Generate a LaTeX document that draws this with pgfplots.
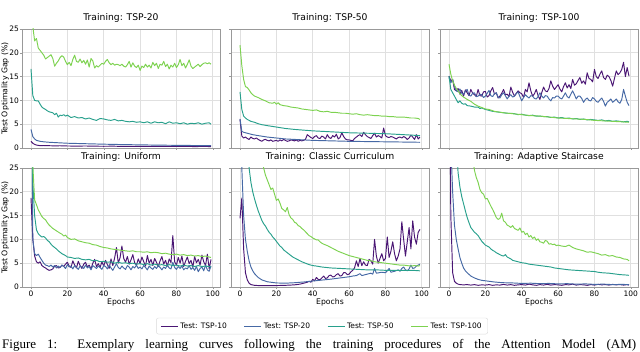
\documentclass[border=0pt]{standalone}
\usepackage{pgfplots}
\pgfplotsset{compat=1.18}
\usepackage{fontspec}
\setmainfont{DejaVu Sans}
\newfontfamily\capfont{Liberation Serif}
\definecolor{c10}{RGB}{74,22,116}
\definecolor{c20}{RGB}{70,105,165}
\definecolor{c50}{RGB}{40,160,140}
\definecolor{c100}{RGB}{125,210,80}
\pgfplotsset{
  panel/.style={
    scale only axis, width=198pt, height=119pt,
    xmin=-4.95, xmax=103.95, ymin=0, ymax=25,
    xtick={0,20,...,100}, ytick={0,5,...,25},
    axis line style={draw=black!40},
    grid=major, grid style={draw=black!12, line width=0.7pt},
    tick pos=left, tick align=outside, major tick length=2pt,
    tick style={draw=black!40},
    tick label style={font=\fontsize{7.5}{9}\selectfont},
    yticklabel style={inner xsep=0.8pt},
    xticklabel style={inner ysep=1.5pt},
    /pgf/number format/assume math mode=true,
    title style={at={(0.5,1)}, anchor=base, yshift=2.6pt, font=\fontsize{9.2}{11}\selectfont, inner sep=0pt},
    ylabel style={at={(axis description cs:-0.085,0.5)}, anchor=center, font=\fontsize{7.8}{9}\selectfont},
    xlabel style={at={(axis description cs:0.5,-0.126)}, anchor=center, font=\fontsize{7.7}{9}\selectfont},
    every axis plot/.append style={line width=0.95pt, line join=round},
  },
}
\begin{document}
\begin{tikzpicture}
\useasboundingbox (0pt,0pt) rectangle (640pt,352pt);
% ---------------- Panel 1
\begin{axis}[panel, at={(22pt,204pt)}, anchor=south west, title={Training: TSP-20}, ylabel={Test Optimality Gap (\%)}, xticklabels={}]
\addplot[c10] coordinates {(0,1.4)(1,1.0)(2,0.75)(3,0.62)(4,0.55)(5,0.5)(7,0.52)(10,0.48)(13,0.45)(16,0.47)(20,0.42)(25,0.4)(30,0.42)(35,0.38)(40,0.36)(45,0.38)(50,0.34)(55,0.36)(60,0.33)(65,0.35)(70,0.32)(75,0.34)(80,0.31)(85,0.33)(90,0.3)(95,0.32)(99,0.3)};
\addplot[c20] coordinates {(0,3.9)(1,2.4)(2,1.9)(3,1.6)(4,1.5)(5,1.4)(7,1.3)(10,1.2)(15,1.1)(20,1.0)(30,0.9)(40,0.8)(50,0.72)(60,0.66)(70,0.6)(80,0.56)(90,0.52)(99,0.5)};
\addplot[c50] coordinates {(0,16.6)(1,11.0)(2,10.0)(3,9.9)(4,9.9)(5,9.2)(6,8.6)(7,8.3)(8,8.1)(9,7.8)(10,7.6)(11,7.5)(12,7.4)(13,7.0)(14,7.3)(15,6.5)(16,6.9)(17,6.8)(18,7.0)(19,6.7)(20,6.9)(22,6.4)(24,6.6)(26,6.3)(28,6.4)(30,6.1)(32,6.3)(34,6.0)(36,5.8)(38,6.2)(40,6.1)(42,5.9)(44,5.8)(46,6.0)(48,5.7)(50,5.8)(52,5.6)(54,5.5)(56,5.6)(58,5.4)(60,5.5)(62,5.3)(64,5.5)(66,5.2)(68,5.5)(70,5.3)(72,5.4)(74,5.1)(76,5.5)(78,5.2)(80,5.3)(82,5.1)(84,5.3)(86,5.0)(88,5.2)(90,5.1)(92,5.3)(94,5.0)(96,5.2)(98,5.3)(99,5.0)};
\addplot[c100] coordinates {(0,27.5)(1,25.5)(2,22.5)(3,23.0)(4,21.0)(5,20.5)(6,20.0)(7,19.5)(8,18.7)(9,19.0)(10,19.3)(11,19.6)(12,18.8)(13,17.2)(14,17.8)(15,18.3)(16,19.0)(17,19.4)(18,19.1)(19,18.2)(20,17.5)(21,18.0)(22,17.3)(23,18.6)(24,19.5)(25,18.2)(26,18.0)(27,18.7)(28,17.9)(29,18.4)(30,17.6)(31,18.5)(32,17.0)(33,18.8)(34,18.3)(35,16.8)(36,17.3)(37,17.0)(38,17.4)(39,17.8)(40,17.6)(41,18.2)(42,18.6)(43,17.9)(44,17.5)(45,17.8)(46,17.4)(47,17.6)(48,17.5)(49,17.3)(50,17.6)(51,17.2)(52,17.0)(53,17.5)(54,18.2)(55,17.0)(56,17.9)(57,17.2)(58,16.9)(59,17.4)(60,16.3)(61,17.2)(62,16.9)(63,17.6)(64,17.0)(65,17.4)(66,16.8)(67,18.0)(68,17.3)(69,17.8)(70,16.7)(71,17.6)(72,17.4)(73,18.2)(74,17.1)(75,17.6)(76,16.6)(77,17.4)(78,17.0)(79,17.8)(80,16.9)(81,17.5)(82,18.6)(83,17.3)(84,17.8)(85,16.8)(86,17.6)(87,18.5)(88,17.2)(89,16.7)(90,17.0)(91,17.3)(92,17.6)(93,17.1)(94,17.5)(95,17.8)(96,17.9)(97,17.7)(98,17.9)(99,17.6)};
\end{axis}
% ---------------- Panel 2
\begin{axis}[panel, at={(231pt,204pt)}, anchor=south west, title={Training: TSP-50}, xticklabels={}, yticklabels={}]
\addplot[c10] coordinates {(0,6.0)(1,2.5)(2,2.1)(3,2.3)(4,2.0)(5,1.8)(6,2.3)(7,2.0)(8,1.9)(9,2.1)(10,1.8)(11,1.6)(12,1.4)(13,1.7)(14,1.8)(15,1.6)(16,1.5)(17,1.7)(18,1.4)(19,1.5)(20,1.6)(21,1.4)(22,1.7)(23,1.5)(24,1.8)(25,1.6)(26,1.4)(27,1.5)(28,1.7)(29,1.6)(30,1.5)(31,1.7)(32,1.4)(33,1.6)(34,1.5)(35,1.6)(36,1.8)(37,2.8)(38,2.5)(39,2.2)(40,2.0)(41,2.4)(42,2.6)(43,2.1)(44,2.0)(45,2.5)(46,2.3)(47,1.9)(48,2.8)(49,2.2)(50,2.0)(51,2.6)(52,2.3)(53,2.9)(54,1.9)(55,2.2)(56,3.2)(57,2.4)(58,1.9)(59,1.7)(60,1.7)(61,1.6)(62,1.5)(63,2.0)(64,2.3)(65,2.6)(66,2.8)(67,2.4)(68,3.3)(69,2.8)(70,2.4)(71,2.2)(72,2.0)(73,2.6)(74,3.1)(75,2.3)(76,2.6)(77,2.4)(78,2.1)(79,4.2)(80,2.6)(81,2.3)(82,2.2)(83,2.4)(84,2.3)(85,2.1)(86,1.9)(87,2.2)(88,2.3)(89,2.1)(90,2.4)(91,2.2)(92,1.8)(93,2.1)(94,2.7)(95,2.3)(96,1.8)(97,2.8)(98,1.9)(99,2.3)};
\addplot[c20] coordinates {(0,6.1)(1,3.5)(2,3.3)(3,3.2)(5,3.0)(7,2.8)(10,2.6)(15,2.3)(20,2.1)(25,1.9)(30,1.8)(40,1.6)(50,1.5)(60,1.4)(70,1.35)(80,1.3)(90,1.25)(99,1.2)};
\addplot[c50] coordinates {(0,11.8)(1,8.1)(2,6.7)(3,6.3)(4,6.0)(5,5.8)(6,5.6)(8,5.4)(10,5.1)(12,4.9)(15,4.7)(20,4.4)(25,4.1)(30,3.9)(35,3.75)(40,3.6)(50,3.4)(60,3.2)(70,3.1)(80,3.0)(90,2.8)(99,2.6)};
\addplot[c100] coordinates {(0,21.6)(1,17.3)(2,14.4)(3,12.9)(4,12.7)(5,12.2)(6,11.6)(7,11.2)(8,10.9)(10,10.6)(12,10.2)(14,9.9)(16,9.5)(18,9.4)(19,9.6)(20,9.2)(21,9.5)(22,9.1)(24,8.9)(26,8.8)(28,8.6)(30,8.5)(32,8.4)(34,8.2)(36,8.1)(38,8.0)(40,7.9)(42,8.0)(44,7.7)(46,7.6)(48,7.7)(50,7.5)(52,7.5)(54,7.4)(56,7.3)(58,7.3)(60,7.2)(62,7.1)(64,7.2)(66,7.0)(68,6.9)(70,7.0)(72,6.9)(74,6.8)(76,6.8)(78,6.7)(80,6.7)(82,6.6)(84,6.6)(86,6.5)(88,6.5)(90,6.5)(92,6.4)(94,6.3)(96,6.3)(98,6.2)(99,6.0)};
\end{axis}
% ---------------- Panel 3
\begin{axis}[panel, at={(440pt,204pt)}, anchor=south west, title={Training: TSP-100}, xticklabels={}, yticklabels={}]
\addplot[c10] coordinates {(0,15.1)(1,14.1)(2,14.4)(3,12.3)(4,12.0)(5,12.5)(6,11.3)(7,12.1)(8,10.9)(9,12.2)(10,11.6)(11,11.0)(12,12.3)(13,11.5)(14,11.2)(15,10.8)(16,12.3)(17,11.0)(18,10.9)(19,11.8)(20,11.9)(21,10.7)(22,11.0)(23,12.0)(24,12.7)(25,11.3)(26,11.6)(27,10.5)(28,10.9)(29,11.5)(30,12.3)(31,11.2)(32,11.3)(33,10.8)(34,12.8)(35,11.7)(36,10.9)(37,11.5)(38,12.0)(39,11.6)(40,11.4)(41,10.6)(42,12.3)(43,11.8)(44,13.7)(45,12.0)(46,10.9)(47,11.4)(48,12.3)(49,11.0)(50,10.2)(51,11.6)(52,12.8)(53,12.0)(54,11.8)(55,12.5)(56,14.1)(57,13.0)(58,12.3)(59,12.8)(60,13.3)(61,12.4)(62,11.8)(63,12.9)(64,13.7)(65,12.6)(66,13.3)(67,12.5)(68,14.4)(69,13.2)(70,13.5)(71,14.2)(72,14.8)(73,13.6)(74,14.1)(75,13.4)(76,15.8)(77,14.6)(78,14.4)(79,13.9)(80,16.5)(81,15.0)(82,14.6)(83,15.5)(84,16.2)(85,14.8)(86,14.4)(87,15.3)(88,15.0)(89,14.2)(90,13.0)(91,14.6)(92,16.2)(93,15.4)(94,15.8)(95,16.5)(96,18.0)(97,15.0)(98,16.9)(99,15.1)};
\addplot[c20] coordinates {(0,14.8)(1,13.7)(2,14.4)(3,13.0)(4,12.0)(5,11.8)(6,12.4)(7,11.5)(8,11.3)(9,11.9)(10,12.3)(11,11.1)(12,10.9)(13,11.5)(14,11.6)(15,10.8)(16,10.9)(17,11.3)(18,11.2)(19,10.6)(20,10.9)(21,11.5)(22,12.1)(23,11.0)(24,10.8)(25,11.4)(26,11.6)(27,10.7)(28,10.5)(29,11.2)(30,11.6)(31,11.0)(32,10.3)(33,10.9)(34,11.2)(35,10.7)(36,10.9)(37,11.4)(38,11.8)(39,10.8)(40,9.9)(41,10.6)(42,11.2)(43,10.8)(44,10.5)(45,11.0)(46,10.9)(47,10.4)(48,10.3)(49,10.8)(50,11.6)(51,10.9)(52,10.5)(53,11.0)(54,10.9)(55,10.3)(56,9.9)(57,10.6)(58,10.5)(59,10.9)(60,10.9)(61,10.5)(62,10.3)(63,10.9)(64,11.6)(65,10.8)(66,10.5)(67,11.3)(68,12.0)(69,11.2)(70,10.3)(71,10.9)(72,10.9)(73,10.4)(74,9.6)(75,10.2)(76,10.5)(77,10.0)(78,9.9)(79,10.6)(80,10.3)(81,9.8)(82,9.6)(83,10.1)(84,10.5)(85,9.8)(86,8.8)(87,9.6)(88,9.9)(89,10.3)(90,9.6)(91,9.9)(92,10.3)(93,9.7)(94,9.4)(95,10.2)(96,12.3)(97,10.9)(98,9.6)(99,8.9)};
\addplot[c50] coordinates {(0,15.1)(1,12.3)(2,11.6)(3,10.9)(4,10.2)(5,9.5)(6,9.9)(7,9.4)(8,9.2)(9,9.3)(10,8.9)(12,8.8)(14,8.6)(16,8.6)(17,8.3)(18,8.4)(20,8.1)(22,7.9)(24,7.7)(26,7.6)(28,7.5)(30,7.4)(32,7.3)(34,7.3)(36,7.2)(38,7.0)(40,7.1)(42,6.9)(44,6.8)(46,6.9)(48,6.7)(50,6.7)(52,6.6)(54,6.6)(56,6.4)(58,6.5)(60,6.3)(62,6.4)(64,6.2)(66,6.3)(68,6.1)(70,6.2)(72,6.0)(74,6.1)(76,5.9)(78,6.0)(80,5.9)(82,5.8)(84,5.9)(86,5.7)(88,5.8)(90,5.6)(92,5.7)(94,5.6)(96,5.5)(98,5.6)(99,5.5)};
\addplot[c100] coordinates {(0,17.6)(1,15.5)(2,14.1)(3,13.2)(4,12.5)(5,12.0)(6,11.4)(7,11.0)(8,10.7)(10,10.2)(12,9.8)(14,9.2)(16,8.8)(18,8.5)(20,8.2)(22,8.1)(25,7.7)(30,7.4)(35,7.2)(40,7.0)(45,6.8)(50,6.7)(55,6.5)(60,6.3)(65,6.2)(70,6.1)(75,6.0)(80,5.8)(85,5.7)(90,5.6)(95,5.5)(99,5.4)};
\end{axis}
% ---------------- Panel 4
\begin{axis}[panel, at={(22pt,65pt)}, anchor=south west, title={Training: Uniform}, ylabel={Test Optimality Gap (\%)}, xlabel={Epochs}]
\addplot[c10] coordinates {(0,18.7)(1,10.0)(2,6.5)(3,5.3)(4,5.0)(5,5.3)(6,4.5)(7,4.2)(8,4.0)(9,3.7)(10,3.5)(11,3.6)(12,3.8)(13,4.4)(14,4.5)(15,4.0)(16,4.1)(17,4.6)(18,4.3)(19,4.8)(20,5.2)(21,4.4)(22,4.1)(23,5.5)(24,4.6)(25,4.0)(26,5.4)(27,4.5)(28,3.9)(29,4.8)(30,5.2)(31,4.2)(32,4.6)(33,3.8)(34,5.0)(35,5.8)(36,4.3)(37,4.9)(38,4.1)(39,5.3)(40,4.4)(41,5.6)(42,4.7)(43,3.9)(44,5.9)(45,4.5)(46,6.1)(47,8.3)(48,5.0)(49,6.2)(50,8.6)(51,6.0)(52,5.2)(53,6.4)(54,4.8)(55,5.7)(56,6.8)(57,5.1)(58,4.6)(59,5.9)(60,4.9)(61,6.3)(62,5.3)(63,4.4)(64,6.6)(65,5.0)(66,5.8)(67,4.5)(68,6.0)(69,5.2)(70,4.3)(71,5.5)(72,6.4)(73,4.8)(74,5.6)(75,4.4)(76,5.9)(77,5.1)(78,10.8)(79,5.3)(80,4.6)(81,6.2)(82,5.0)(83,6.5)(84,4.3)(85,5.4)(86,6.3)(87,4.9)(88,5.6)(89,4.2)(90,6.4)(91,5.1)(92,5.8)(93,4.6)(94,6.7)(95,5.3)(96,4.5)(97,6.9)(98,3.8)(99,5.8)};
\addplot[c20] coordinates {(0,60)(1,10.0)(2,7.0)(3,6.6)(4,6.9)(5,6.2)(6,5.6)(7,5.0)(8,4.6)(9,4.5)(10,4.3)(11,4.6)(12,4.2)(13,4.5)(14,4.0)(15,4.4)(16,4.1)(17,4.6)(18,4.3)(19,3.9)(20,4.7)(21,4.2)(22,4.4)(23,3.8)(24,4.5)(25,4.1)(26,3.7)(27,4.4)(28,4.2)(29,3.9)(30,4.6)(31,4.0)(32,4.3)(33,3.6)(34,4.5)(35,4.2)(36,3.9)(37,4.4)(38,4.1)(39,3.7)(40,4.5)(41,4.3)(42,3.8)(43,4.6)(44,4.0)(45,3.5)(46,4.2)(47,4.9)(48,4.1)(49,3.8)(50,4.4)(51,4.0)(52,3.7)(53,4.5)(54,4.2)(55,3.6)(56,4.3)(57,4.0)(58,4.6)(59,3.9)(60,4.2)(61,3.8)(62,4.5)(63,4.1)(64,3.6)(65,4.4)(66,4.0)(67,3.7)(68,4.3)(69,3.9)(70,4.5)(71,4.1)(72,3.6)(73,4.2)(74,3.9)(75,4.6)(76,4.0)(77,3.8)(78,5.2)(79,4.1)(80,3.7)(81,4.3)(82,3.9)(83,4.4)(84,3.6)(85,4.0)(86,3.8)(87,4.5)(88,3.7)(89,4.1)(90,3.5)(91,4.3)(92,3.2)(93,3.9)(94,4.2)(95,3.4)(96,4.6)(97,3.6)(98,3.3)(99,4.4)};
\addplot[c50] coordinates {(0,45)(1,22)(2,15)(3,12)(4,11.2)(5,10.8)(6,10.5)(7,10.6)(8,10.3)(9,9.8)(10,9.5)(11,9.0)(12,8.6)(13,8.3)(14,8.0)(15,7.6)(16,7.3)(17,7.0)(18,6.8)(19,6.6)(20,6.3)(22,6.2)(24,6.0)(26,6.1)(28,5.8)(30,5.7)(32,5.8)(34,5.5)(36,5.6)(38,5.3)(40,5.4)(42,5.2)(44,5.3)(46,5.0)(48,5.2)(50,5.0)(52,5.1)(54,4.9)(56,5.0)(58,4.8)(60,4.9)(62,4.7)(64,4.9)(66,4.6)(68,4.8)(70,4.6)(72,4.7)(74,4.5)(76,4.7)(78,4.5)(80,4.6)(82,4.4)(84,4.6)(86,4.4)(88,4.5)(90,4.3)(92,4.5)(94,4.3)(96,4.4)(98,4.3)(99,4.2)};
\addplot[c100] coordinates {(0,40)(1,25.5)(2,18.3)(3,17.3)(4,16.2)(5,15.5)(6,14.8)(7,14.4)(8,14.1)(9,13.5)(10,13.0)(12,12.3)(14,11.8)(16,11.3)(17,11.1)(18,10.7)(19,10.9)(20,10.4)(22,10.0)(24,10.1)(26,9.7)(28,9.5)(30,9.3)(32,9.2)(34,8.9)(36,8.8)(38,8.5)(40,8.3)(42,8.2)(44,8.0)(46,7.9)(48,7.8)(50,7.7)(52,7.6)(54,7.5)(56,7.6)(58,7.4)(60,7.4)(62,7.3)(64,7.4)(66,7.2)(68,7.3)(70,7.2)(72,7.0)(74,7.1)(76,6.9)(78,6.8)(80,6.9)(82,6.7)(84,6.8)(86,6.6)(88,6.7)(90,6.5)(92,6.6)(94,6.4)(96,6.5)(98,6.3)(99,6.2)};
\end{axis}
% ---------------- Panel 5
\begin{axis}[panel, at={(231pt,65pt)}, anchor=south west, title={Training: Classic Curriculum}, xlabel={Epochs}, yticklabels={},
  legend columns=4,
  legend style={at={(axis description cs:0.46,-0.328)}, anchor=center, draw=black!15, rounded corners=2pt,
    font=\fontsize{7.5}{9}\selectfont, inner xsep=4pt, inner ysep=2.5pt,
    /tikz/every even column/.append style={column sep=15pt}},
  legend cell align=left,
  legend image code/.code={\draw[#1] (0pt,0pt) -- (17pt,0pt);}]
\addplot[c10] coordinates {(0,14.4)(1,18.7)(2,8.0)(3,3.0)(4,1.5)(5,0.8)(6,0.5)(8,0.35)(10,0.3)(15,0.3)(20,0.3)(25,0.35)(30,0.45)(33,0.6)(35,0.8)(37,1.0)(38,1.2)(39,1.0)(40,1.6)(41,1.3)(42,2.0)(43,1.6)(44,1.5)(45,1.9)(46,2.3)(47,1.8)(48,1.9)(49,2.4)(50,2.5)(51,2.1)(52,2.2)(53,2.6)(54,2.8)(55,2.3)(56,2.4)(57,3.0)(58,3.0)(59,2.6)(60,2.7)(61,3.2)(62,3.5)(63,4.0)(64,5.5)(65,4.3)(66,6.0)(67,4.5)(68,5.3)(69,4.6)(70,4.5)(71,5.8)(72,5.5)(73,4.8)(74,10.0)(75,6.5)(76,5.0)(77,6.0)(78,7.0)(79,5.5)(80,6.0)(81,10.5)(82,6.2)(83,7.5)(84,9.5)(85,7.0)(86,5.5)(87,6.5)(88,8.0)(89,13.7)(90,10.0)(91,6.5)(92,9.5)(93,12.5)(94,8.0)(95,13.9)(96,10.5)(97,9.0)(98,11.5)(99,12.1)};
\addlegendentry{Test: TSP-10}
\addplot[c20] coordinates {(0,40)(1,25)(2,15)(3,10)(4,7.5)(5,5.5)(6,4.2)(7,3.4)(8,2.8)(10,2.0)(12,1.5)(15,1.1)(20,0.85)(25,0.8)(30,0.9)(35,1.05)(40,1.25)(45,1.45)(50,1.65)(55,1.9)(60,2.15)(62,2.3)(64,2.4)(66,2.8)(67,2.4)(70,2.7)(72,2.9)(73,2.7)(74,3.9)(75,2.9)(78,3.1)(80,3.0)(81,3.4)(82,3.9)(83,3.1)(85,3.3)(87,3.6)(88,3.3)(89,3.9)(90,4.2)(91,3.6)(92,3.4)(93,3.8)(94,4.6)(95,3.9)(96,4.0)(97,4.4)(98,4.6)(99,4.8)};
\addlegendentry{Test: TSP-20}
\addplot[c50] coordinates {(0,80)(2,50)(4,30)(5,25)(6,22)(7,20)(8,18.5)(9,17.2)(10,16.0)(11,15.0)(12,14.0)(13,13.3)(14,12.8)(15,12.1)(16,11.5)(17,11.1)(18,10.5)(19,10.1)(20,9.6)(21,9.1)(22,8.6)(23,8.3)(24,7.8)(25,7.5)(26,7.2)(27,6.9)(28,6.6)(29,6.3)(30,6.1)(32,5.7)(34,5.3)(36,5.0)(38,4.7)(40,4.5)(42,4.4)(45,4.2)(50,4.0)(55,3.9)(60,3.8)(65,3.7)(70,3.6)(75,3.6)(80,3.5)(85,3.5)(90,3.5)(95,3.5)(99,3.4)};
\addlegendentry{Test: TSP-50}
\addplot[c100] coordinates {(0,120)(5,60)(10,35)(12,27)(13,25.0)(14,23.5)(15,22.5)(16,21.5)(17,20.5)(18,20.8)(19,19.5)(20,18.2)(21,18.5)(22,17.6)(23,16.5)(24,16.2)(25,15.8)(26,16.7)(27,15.2)(28,14.5)(29,14.2)(30,13.6)(31,13.4)(32,12.9)(33,12.7)(34,12.3)(35,12.0)(36,11.6)(37,11.2)(38,10.8)(39,10.6)(40,10.3)(41,10.1)(42,9.9)(43,9.9)(44,9.5)(45,9.2)(46,9.0)(48,8.7)(50,8.3)(52,7.9)(54,7.5)(56,7.2)(58,6.9)(60,6.6)(62,6.4)(64,6.2)(66,6.0)(68,5.8)(70,5.6)(72,5.5)(74,5.3)(76,5.2)(78,5.1)(80,5.0)(82,4.9)(84,4.8)(86,4.7)(88,4.6)(90,4.6)(92,4.5)(94,4.4)(96,4.5)(98,4.4)(99,4.5)};
\addlegendentry{Test: TSP-100}
\end{axis}
% ---------------- Panel 6
\begin{axis}[panel, at={(440pt,65pt)}, anchor=south west, title={Training: Adaptive Staircase}, xlabel={Epochs}, yticklabels={}]
\addplot[c10] coordinates {(0,60)(1,15)(2,3.0)(3,1.2)(4,0.8)(5,0.6)(6,0.5)(8,0.45)(10,0.5)(12,0.4)(14,0.5)(16,0.35)(18,0.45)(20,0.4)(22,0.5)(24,0.35)(26,0.45)(28,0.4)(30,0.55)(32,0.4)(34,0.5)(36,0.35)(38,0.45)(40,0.5)(42,0.4)(44,0.6)(46,0.45)(48,0.35)(50,0.5)(52,0.4)(54,0.55)(56,0.4)(58,0.5)(60,0.45)(62,0.35)(64,0.5)(66,0.45)(68,0.6)(70,0.4)(72,0.5)(74,0.45)(76,0.35)(78,0.5)(80,0.4)(82,0.55)(84,0.45)(86,0.5)(88,0.4)(90,0.55)(92,0.45)(94,0.5)(96,0.4)(98,0.5)(99,0.4)};
\addplot[c20] coordinates {(0,70)(1,30)(2,20)(3,13)(4,10)(5,8.0)(6,6.2)(7,5.0)(8,4.0)(9,3.4)(10,3.0)(12,2.3)(14,1.9)(16,1.6)(18,1.4)(20,1.3)(22,1.2)(25,1.05)(28,0.95)(30,0.9)(35,0.85)(40,0.75)(45,0.8)(50,0.7)(55,0.75)(60,0.65)(65,0.7)(70,0.6)(75,0.65)(80,0.55)(85,0.6)(90,0.5)(95,0.55)(99,0.5)};
\addplot[c50] coordinates {(0,100)(2,60)(4,30)(5,24)(6,21)(7,19)(8,17.5)(9,16.0)(10,14.6)(11,13.5)(12,12.5)(13,12.0)(14,11.5)(15,11.2)(16,10.8)(17,10.2)(18,9.6)(19,9.2)(20,8.8)(21,8.6)(22,8.4)(23,8.0)(24,7.7)(25,7.5)(26,7.2)(27,7.0)(28,6.8)(29,6.6)(30,6.5)(31,6.8)(32,6.3)(33,6.1)(34,5.9)(35,5.6)(36,5.5)(38,5.3)(40,5.1)(42,5.0)(44,4.8)(46,4.7)(48,4.6)(50,4.5)(52,4.4)(54,4.3)(56,4.2)(58,4.0)(60,3.9)(62,3.8)(64,3.7)(66,3.6)(68,3.55)(70,3.5)(72,3.45)(74,3.4)(76,3.35)(78,3.3)(80,3.25)(82,3.1)(84,3.0)(86,2.95)(88,2.9)(90,2.8)(92,2.7)(94,2.6)(96,2.55)(98,2.5)(99,2.45)};
\addplot[c100] coordinates {(0,150)(5,80)(10,40)(12,32)(13,27)(14,24.5)(15,23.0)(16,22.0)(17,20.5)(18,19.8)(19,19.5)(20,18.5)(21,18.6)(22,17.8)(23,17.0)(24,16.3)(25,15.5)(26,14.6)(27,14.2)(28,14.4)(29,15.5)(30,13.9)(31,13.6)(32,13.0)(33,12.8)(34,12.5)(35,12.9)(36,12.3)(37,12.1)(38,11.9)(39,12.4)(40,11.5)(41,11.7)(42,11.0)(43,11.3)(44,10.5)(45,10.8)(46,10.2)(47,10.5)(48,9.8)(49,10.1)(50,9.5)(51,9.4)(52,9.2)(53,9.8)(54,9.6)(55,9.0)(56,9.1)(57,8.9)(58,9.0)(59,8.7)(60,8.8)(62,8.6)(64,8.5)(66,8.8)(68,8.3)(70,8.0)(72,7.8)(74,7.6)(76,7.3)(78,7.4)(80,7.2)(82,7.0)(84,6.7)(86,6.8)(88,6.5)(90,6.6)(92,6.3)(94,6.2)(96,5.9)(98,5.8)(99,5.5)};
\end{axis}
% ---------------- Caption
\node[anchor=base west, inner sep=0pt, font=\capfont\fontsize{13}{15}\selectfont] at (2pt,3.2pt) {\makebox[634pt][s]{Figure 1: Exemplary learning curves following the training procedures of the Attention Model (AM)}};
\end{tikzpicture}
\end{document}
